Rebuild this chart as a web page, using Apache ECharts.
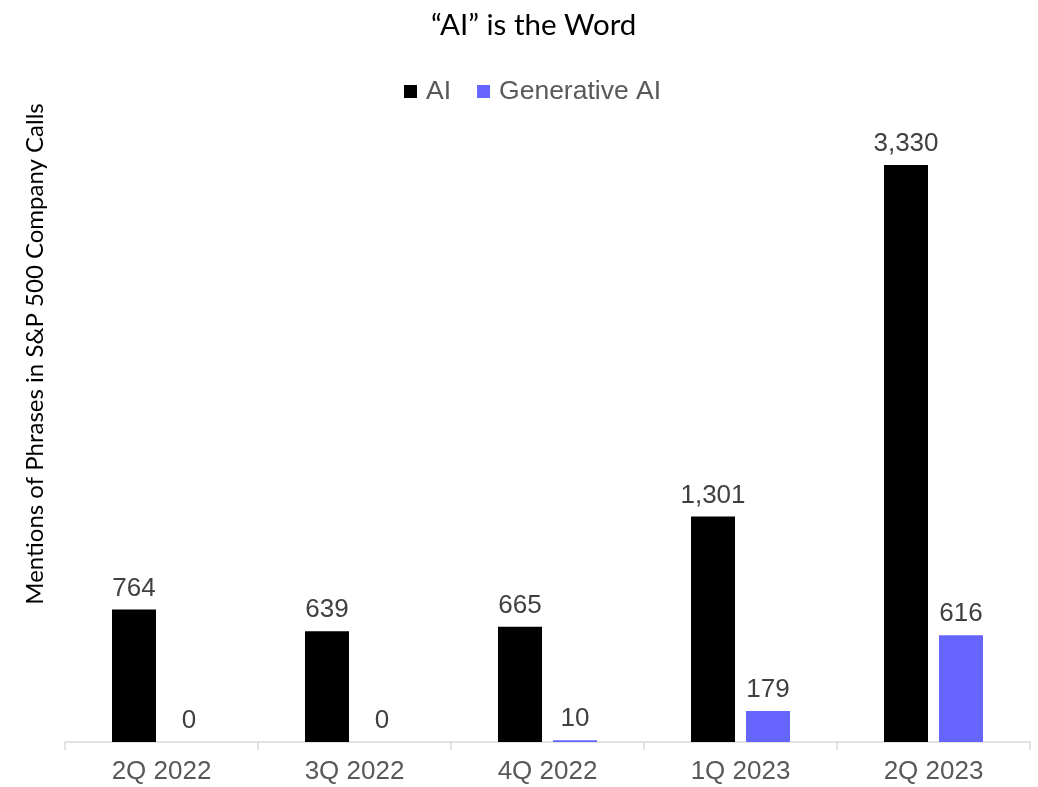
<!DOCTYPE html>
<html>
<head>
<meta charset="utf-8">
<script src="https://cdn.jsdelivr.net/npm/echarts@6/dist/echarts.min.js"></script>
<style>
  html, body { margin: 0; padding: 0; background: #fff; }
  #chart { width: 1038px; height: 787px; }
</style>
</head>
<body>
<div id="chart"></div>
<script>
const quarters = ['2Q 2022', '3Q 2022', '4Q 2022', '1Q 2023', '2Q 2023'];
const aiMentions = [764, 639, 665, 1301, 3330];
const genAiMentions = [0, 0, 10, 179, 616];

const chart = echarts.init(document.getElementById('chart'));

const labelStyle = {
  show: true,
  position: 'top',
  distance: 8,
  fontFamily: 'Liberation Sans',
  fontSize: 26,
  color: '#404040',
  formatter: p => p.value.toLocaleString('en-US')
};

const option = {
  animation: false,
  title: {
    text: '\u201CAI\u201D is the Word',
    left: 426,
    top: 5,
    textStyle: {
      fontFamily: 'Lato',
      fontWeight: 'normal',
      fontSize: 29.5,
      color: '#000'
    }
  },
  legend: {
    top: 73,
    left: 399,
    itemWidth: 13,
    itemHeight: 13,
    itemGap: 26,
    icon: 'rect',
    textStyle: {
      fontFamily: 'Liberation Sans',
      fontSize: 26.5,
      color: '#595959',
      padding: [0, 0, 0, 4]
    },
    data: ['AI', 'Generative AI']
  },
  graphic: [{
    type: 'text',
    x: 35,
    y: 354,
    rotation: Math.PI / 2,
    style: {
      text: 'Mentions of Phrases in S&P 500 Company Calls',
      fontFamily: 'Lato',
      fontSize: 24,
      fill: '#000',
      align: 'center',
      verticalAlign: 'middle'
    }
  }],
  grid: {
    left: 65,
    right: 8,
    top: 165,
    bottom: 45,
    containLabel: false
  },
  xAxis: {
    type: 'category',
    data: quarters,
    axisLine: { lineStyle: { color: '#d9d9d9', width: 1.5 } },
    axisTick: { show: true, length: 8, lineStyle: { color: '#d9d9d9', width: 1.5 } },
    axisLabel: {
      fontFamily: 'Liberation Sans',
      fontSize: 26,
      color: '#595959',
      margin: 17
    }
  },
  yAxis: {
    type: 'value',
    min: 0,
    max: 3330,
    axisLabel: { show: false },
    axisLine: { show: false },
    axisTick: { show: false },
    splitLine: { show: false }
  },
  series: [
    {
      name: 'AI',
      type: 'bar',
      data: aiMentions,
      barWidth: 44,
      barGap: '25%',
      itemStyle: { color: '#000000' },
      label: labelStyle
    },
    {
      name: 'Generative AI',
      type: 'bar',
      data: genAiMentions,
      barWidth: 44,
      itemStyle: { color: '#6666ff' },
      label: labelStyle
    }
  ]
};

chart.setOption(option);
</script>
</body>
</html>
